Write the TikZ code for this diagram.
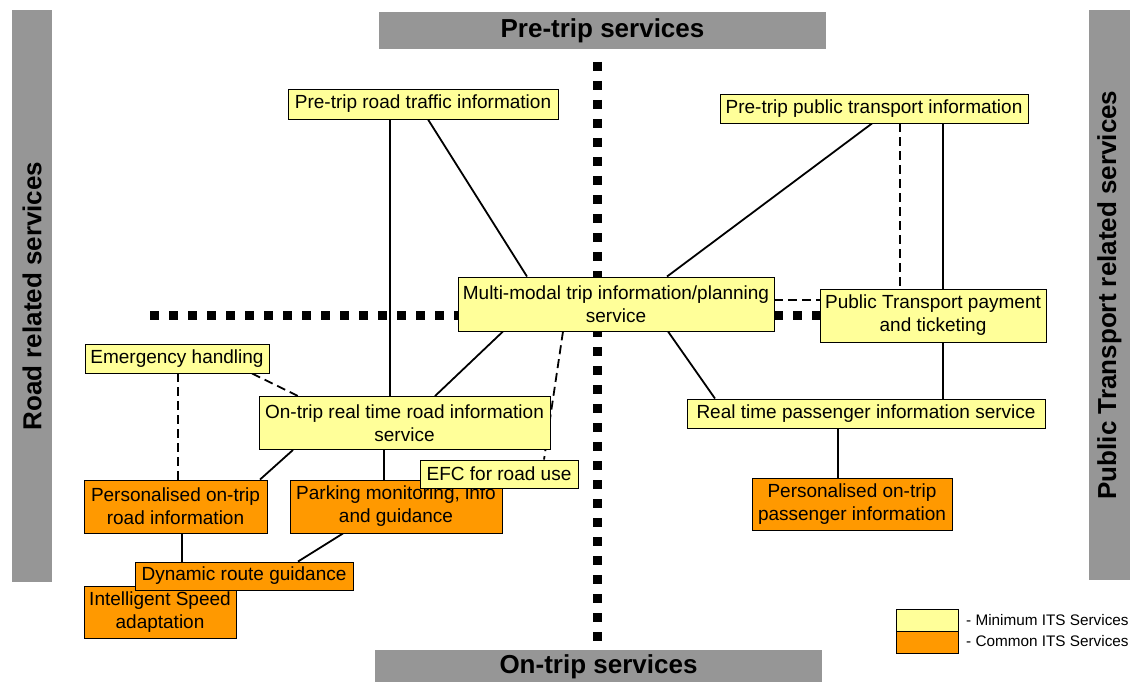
\documentclass[tikz,border=0pt]{standalone}
\usepackage{fontspec}
\setmainfont{Liberation Sans}
\usetikzlibrary{calc}
\pgfdeclarelayer{background}
\pgfsetlayers{background,main}
\definecolor{ylw}{HTML}{FFFF99}
\definecolor{org}{HTML}{FF9900}
\definecolor{barg}{HTML}{969696}
\tikzset{
  ybox/.style={draw=black, line width=0.9pt, fill=ylw, inner sep=0pt, align=center,
    font=\fontsize{19}{23}\selectfont},
  obox/.style={ybox, fill=org},
  bar/.style={fill=barg, draw=none, inner sep=0pt, font=\bfseries\fontsize{26}{28}\selectfont},
  conn/.style={line width=1.8pt},
  dconn/.style={line width=1.8pt, dash pattern=on 9pt off 5pt},
  sq/.style={line width=9pt, dash pattern=on 9pt off 10pt}
}
\begin{document}
\begin{tikzpicture}[x=1pt,y=-1pt]
\useasboundingbox (0,0) rectangle (1133,682);
% bars
\node[bar, minimum width=447, minimum height=37] (top) at (602.5,30.5) {\raisebox{-4pt}{Pre-trip services}};
\node[bar, minimum width=447, minimum height=34] (bot) at (598.5,667) {\raisebox{-3pt}{On-trip services}};
\node[bar, minimum width=572, minimum height=40, rotate=90] (left) at (32,296) {Road related services};
\node[bar, minimum width=570, minimum height=41, rotate=90] (right) at (1109.5,295) {Public Transport related services};
% nodes
\node[ybox, minimum width=270, minimum height=30] (prt) at (423,104) {Pre-trip road traffic information};
\node[ybox, minimum width=308, minimum height=29] (ppt) at (874,108.5) {Pre-trip public transport information};
\node[ybox, minimum width=316, minimum height=54] (mm) at (616,304) {Multi-modal trip information/planning\\service};
\node[ybox, minimum width=226, minimum height=53] (ptp) at (933,315.5) {Public Transport payment\\and ticketing};
\node[ybox, minimum width=184, minimum height=29] (eh) at (177,358.5) {Emergency handling};
\node[ybox, minimum width=291, minimum height=53] (ort) at (404.5,423) {On-trip real time road information\\service};
\node[obox, minimum width=183, minimum height=53] (por) at (175.5,506.5) {Personalised on-trip\\road information};
\node[obox, minimum width=212, minimum height=53] (pmg) at (396,506.5) {Parking monitoring, info\\and guidance};
\node[ybox, minimum width=158, minimum height=28] (efc) at (499,474) {EFC for road use};
\node[obox, minimum width=152, minimum height=52] (isa) at (160,612) {Intelligent Speed\\adaptation};
\node[obox, minimum width=218, minimum height=28] (drg) at (244,576) {Dynamic route guidance};
\node[ybox, minimum width=358, minimum height=29] (rtp) at (866,413.5) {Real time passenger information service};
\node[obox, minimum width=200, minimum height=52] (pop) at (852,504) {Personalised on-trip\\passenger information};
% legend
\node[ybox, minimum width=62, minimum height=22] (lgy) at (927,620) {};
\node[obox, minimum width=62, minimum height=22] (lgo) at (927,642) {};
\node[anchor=west, inner sep=0pt, font=\fontsize{15.3}{17}\selectfont] (lty) at (966,620.5) {- Minimum ITS Services};
\node[anchor=west, inner sep=0pt, font=\fontsize{15.3}{17}\selectfont] (lto) at (966,641.5) {- Common ITS Services};
% background: dividers and connectors
\begin{pgfonlayer}{background}
\coordinate (vt) at (597,62);
\coordinate (vb) at (597,641);
\coordinate (hl) at (150,315);
\draw[sq] (vt) -- (vb);
\draw[sq] (hl) -- (mm.west |- hl);
\draw[sq] (mm.east |- hl) -- (ptp.west |- hl);
\draw[conn] ([xshift=-33pt]prt.south) -- ([xshift=-14.5pt]ort.north);
\draw[conn] ([xshift=5pt]prt.south) -- ([xshift=-89pt]mm.north);
\draw[conn] ([xshift=-2pt]ppt.south) -- ([xshift=51pt]mm.north);
\draw[dconn] ([xshift=26pt]ppt.south) -- ([xshift=-33pt]ptp.north);
\draw[conn] ([xshift=69pt]ppt.south) -- ([xshift=77pt]rtp.north);
\draw[dconn] ([yshift=4pt]mm.east) -- ([yshift=15.5pt]ptp.west);
\draw[conn] ([xshift=-113pt]mm.south) -- ([xshift=30.5pt]ort.north);
\draw[dconn] ([xshift=-53pt]mm.south) -- ([xshift=45pt]efc.north);
\draw[conn] ([xshift=52pt]mm.south) -- ([xshift=-151pt]rtp.north);
\draw[dconn] ([xshift=75pt]eh.south) -- ([xshift=-106.5pt]ort.north);
\draw[dconn] ([xshift=1pt]eh.south) -- ([xshift=1pt]eh.south |- por.north);
\draw[conn] ([xshift=-111.5pt]ort.south) -- ([xshift=84.5pt]por.north);
\draw[conn] ([xshift=-20.5pt]ort.south) -- ([xshift=-12pt]pmg.north);
\draw[conn] ([xshift=6.5pt]por.south) -- ([xshift=-62pt]drg.north);
\draw[conn] ([xshift=-53pt]pmg.south) -- ([xshift=54pt]drg.north);
\draw[conn] ([xshift=-28pt]rtp.south) -- ([xshift=-14pt]pop.north);
\end{pgfonlayer}
\end{tikzpicture}
\end{document}
